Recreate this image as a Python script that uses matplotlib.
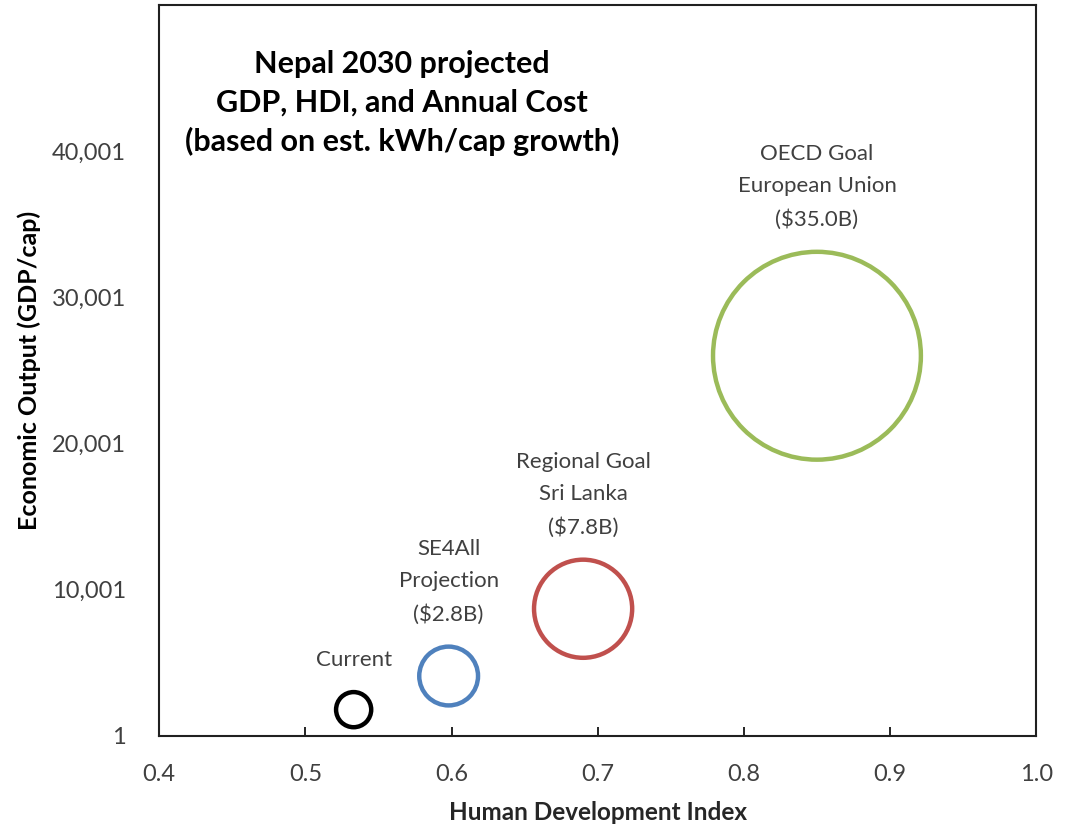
import matplotlib
matplotlib.use("Agg")
import matplotlib.pyplot as plt
import numpy as np

# Bubble data
labels = ["Current", "SE4All\nProjection\n($2.8B)", "Regional Goal\nSri Lanka\n($7.8B)",
          "OECD Goal\nEuropean Union\n($35.0B)"]
hdi = [0.533, 0.598, 0.69, 0.85]
gdp_cap = [1800, 4100, 8700, 26000]
cost_b = [1.0, 2.8, 7.8, 35.0]   # annual cost, $B (current is a guess)
colors = ["#000000", "#4F81BD", "#C0504D", "#9BBB59"]

x_ticks = [0.4, 0.5, 0.6, 0.7, 0.8, 0.9, 1.0]
y_ticks = [1, 10001, 20001, 30001, 40001]

plt.rcParams['font.family'] = ['Lato', 'DejaVu Sans']

fig = plt.figure(figsize=(10.76, 8.3), dpi=100)
ax = fig.add_axes([0.148, 0.1133, 0.815, 0.881])

# scale so the biggest bubble is ~204 px across
k = 640.0
sizes = [c * k for c in cost_b]
ax.scatter(hdi, gdp_cap, s=sizes, facecolors='none', edgecolors=colors, linewidths=3.2, zorder=3)

# data labels above each bubble
for xv, yv, s, lab in zip(hdi, gdp_cap, sizes, labels):
    r = np.sqrt(s) / 2
    ax.annotate(lab, xy=(xv, yv), xytext=(0, r + 16), textcoords='offset points',
                ha='center', va='bottom', fontsize=16, color='#404040', linespacing=1.75)

ax.set_xlim(0.4, 1.0)
ax.set_ylim(1, 50001)
ax.set_xticks(x_ticks)
ax.set_xticklabels(["%.1f" % v for v in x_ticks])
ax.set_yticks(y_ticks)
ax.set_yticklabels(["{:,}".format(v) for v in y_ticks])
ax.tick_params(axis='x', direction='in', length=6.5, width=1.2, pad=20, labelsize=17, labelcolor='#404040')
ax.tick_params(axis='y', length=0, pad=24, labelsize=17, labelcolor='#404040')

for sp in ax.spines.values():
    sp.set_linewidth(1.5)
    sp.set_color('#202020')

ax.set_xlabel("Human Development Index", fontsize=17.5, fontweight='bold', color='#262626', labelpad=12)
ax.set_ylabel("Economic Output (GDP/cap)", fontsize=18, fontweight='bold', color='#000000', labelpad=8)

ax.text(0.277, 0.938, "Nepal 2030 projected\nGDP, HDI, and Annual Cost\n(based on est. kWh/cap growth)",
        transform=ax.transAxes, ha='center', va='top', fontsize=22, fontweight='bold',
        color='#000000', linespacing=1.45)

fig.savefig("out.png", dpi=100)
